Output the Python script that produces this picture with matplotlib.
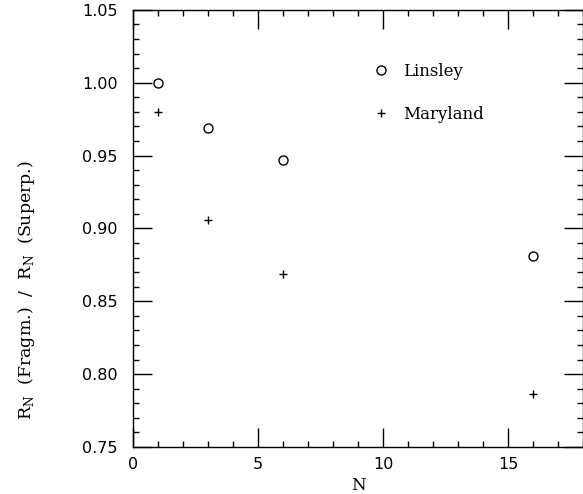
import matplotlib.pyplot as plt
from matplotlib.ticker import MultipleLocator

# values
n_vals = [1, 3, 6, 16]
linsley = [0.9995, 0.969, 0.947, 0.881]
maryland = [0.980, 0.906, 0.869, 0.7865]

fig = plt.figure(figsize=(5.83, 4.94), dpi=100)
ax = fig.add_axes([0.228, 0.095, 0.772, 0.885])

ax.plot(n_vals, linsley, 'o', mfc='none', mec='black', ms=6.5, mew=1.0, label='Linsley')
ax.plot(n_vals, maryland, '+', color='black', ms=6, mew=1.0, label='Maryland')

ax.set_xlim(0, 18)
ax.set_ylim(0.75, 1.05)
ax.xaxis.set_major_locator(MultipleLocator(5))
ax.xaxis.set_minor_locator(MultipleLocator(1))
ax.yaxis.set_major_locator(MultipleLocator(0.05))
ax.yaxis.set_minor_locator(MultipleLocator(0.01))
ax.yaxis.set_major_formatter(plt.FormatStrFormatter('%.2f'))

ax.tick_params(which='both', direction='in', top=True, right=True, width=1.0, labelsize=11.5)
ax.tick_params(which='major', length=14)
ax.tick_params(which='minor', length=4.5)
ax.tick_params(axis='x', pad=7)
ax.tick_params(axis='y', pad=11)
for s in ax.spines.values():
    s.set_linewidth(1.0)

ax.set_xlabel('N', family='DejaVu Serif', fontsize=12)
ax.xaxis.set_label_coords(0.5, -0.068)
ax.set_ylabel(r'R$_\mathregular{N}$  (Fragm.)  /  R$_\mathregular{N}$  (Superp.)',
              family='DejaVu Serif', fontsize=12.5)
ax.yaxis.set_label_coords(-0.213, 0.36)

ax.legend(loc='upper left', bbox_to_anchor=(0.5, 0.913), frameon=False,
          prop={'family': 'DejaVu Serif', 'size': 12}, handlelength=1.0,
          handletextpad=0.8, labelspacing=1.55)

fig.savefig('out.png', dpi=100)
